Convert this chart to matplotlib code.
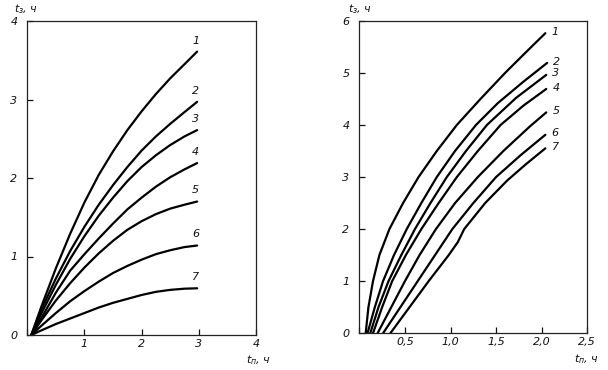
import matplotlib
matplotlib.use("Agg")
import matplotlib.pyplot as plt

plt.rcParams['font.family'] = ['DejaVu Sans']

# ---- left panel data (t_п, t_з) ----
left_labels = ["1", "2", "3", "4", "5", "6", "7"]
left_x = [0.07, 0.25, 0.5, 0.75, 1.0, 1.25, 1.5, 1.75, 2.0, 2.25, 2.5, 2.75, 2.97]
left_y1 = [0.0, 0.37, 0.85, 1.29, 1.69, 2.04, 2.34, 2.61, 2.85, 3.07, 3.27, 3.45, 3.61]
left_y2 = [0.0, 0.33, 0.72, 1.07, 1.38, 1.66, 1.91, 2.14, 2.35, 2.53, 2.69, 2.84, 2.97]
left_y3 = [0.0, 0.28, 0.64, 0.97, 1.26, 1.52, 1.75, 1.96, 2.14, 2.29, 2.42, 2.53, 2.61]
left_y4 = [0.0, 0.22, 0.54, 0.82, 1.03, 1.23, 1.42, 1.60, 1.75, 1.89, 2.01, 2.11, 2.19]
left_y5 = [0.0, 0.19, 0.44, 0.66, 0.86, 1.04, 1.20, 1.34, 1.45, 1.54, 1.61, 1.66, 1.70]
left_y6 = [0.0, 0.12, 0.28, 0.43, 0.56, 0.68, 0.79, 0.88, 0.96, 1.03, 1.08, 1.12, 1.14]
left_y7 = [0.0, 0.06, 0.14, 0.21, 0.28, 0.35, 0.41, 0.46, 0.51, 0.55, 0.575, 0.59, 0.595]

# ---- right panel data ----
right_labels = ["1", "2", "3", "4", "5", "6", "7"]
right_x1 = [0.07, 0.10, 0.15, 0.22, 0.33, 0.48, 0.65, 0.85, 1.07, 1.33, 1.60, 1.83, 2.04]
right_y1 = [0.0, 0.5, 1.0, 1.5, 2.0, 2.5, 3.0, 3.5, 4.0, 4.5, 5.0, 5.4, 5.76]
right_x2 = [0.09, 0.17, 0.26, 0.38, 0.52, 0.68, 0.85, 1.05, 1.28, 1.52, 1.80, 2.06]
right_y2 = [0.0, 0.5, 1.0, 1.5, 2.0, 2.5, 3.0, 3.5, 4.0, 4.42, 4.83, 5.19]
right_x3 = [0.12, 0.21, 0.32, 0.46, 0.61, 0.78, 0.96, 1.17, 1.40, 1.72, 2.05]
right_y3 = [0.0, 0.5, 1.0, 1.5, 2.0, 2.5, 3.0, 3.5, 4.0, 4.52, 4.96]
right_x4 = [0.15, 0.25, 0.36, 0.51, 0.68, 0.87, 1.07, 1.30, 1.55, 1.80, 2.05]
right_y4 = [0.0, 0.5, 1.0, 1.5, 2.0, 2.5, 3.0, 3.5, 4.0, 4.37, 4.69]
right_x5 = [0.20, 0.35, 0.50, 0.66, 0.84, 1.05, 1.30, 1.58, 1.87, 2.05]
right_y5 = [0.0, 0.5, 1.0, 1.5, 2.0, 2.5, 3.0, 3.5, 3.97, 4.24]
right_x6 = [0.26, 0.45, 0.64, 0.83, 1.02, 1.25, 1.50, 1.77, 2.04]
right_y6 = [0.0, 0.5, 1.0, 1.5, 2.0, 2.5, 3.0, 3.42, 3.81]
right_x7 = [0.34, 0.55, 0.76, 0.98, 1.08, 1.15, 1.38, 1.62, 1.83, 2.04]
right_y7 = [0.0, 0.5, 1.0, 1.5, 1.75, 2.0, 2.5, 2.93, 3.25, 3.55]

left_xticks = [0, 1, 2, 3, 4]
left_xticklabels = ["", "1", "2", "3", "4"]
left_yticks = [0, 1, 2, 3, 4]
right_xticks = [0, 0.5, 1.0, 1.5, 2.0, 2.5]
right_xticklabels = ["", "0,5", "1,0", "1,5", "2,0", "2,5"]
right_yticks = [0, 1, 2, 3, 4, 5, 6]

left_series = [left_y1, left_y2, left_y3, left_y4, left_y5, left_y6, left_y7]
right_series = [(right_x1, right_y1), (right_x2, right_y2), (right_x3, right_y3),
                (right_x4, right_y4), (right_x5, right_y5), (right_x6, right_y6),
                (right_x7, right_y7)]

fig = plt.figure(figsize=(6.08, 3.70), dpi=100)
W, H = 608, 370

def make_ax(l, r, t, b):
    return fig.add_axes([l / W, (H - b) / H, (r - l) / W, (b - t) / H])

axL = make_ax(27.3, 256, 21, 335)
axR = make_ax(359.3, 587.3, 20.7, 333.3)

fs = 8
ital = dict(style='italic', fontsize=fs, color='#111111')

for ax in (axL, axR):
    for s in ax.spines.values():
        s.set_linewidth(0.9)
        s.set_color('#222222')
    ax.tick_params(direction='in', length=4, width=0.9, top=False, right=False,
                   labelsize=fs, colors='#111111')
    ax.tick_params(axis='y', pad=7)
    ax.tick_params(axis='x', pad=3)

# left
for ys, lab in zip(left_series, left_labels):
    axL.plot(left_x, ys, color='black', lw=1.6, solid_capstyle='round',
             solid_joinstyle='round')
    axL.annotate(lab, (left_x[-1], ys[-1]), xytext=(-1, 8), textcoords='offset points',
                 ha='center', va='center', **ital)
axL.set_xlim(0, 4)
axL.set_ylim(0, 4)
axL.set_xticks(left_xticks)
axL.set_xticklabels(left_xticklabels)
axL.set_yticks(left_yticks)
axL.set_yticklabels([str(v) for v in left_yticks])

# right
for (xs, ys), lab in zip(right_series, right_labels):
    axR.plot(xs, ys, color='black', lw=1.6, solid_capstyle='round',
             solid_joinstyle='round')
    axR.annotate(lab, (xs[-1], ys[-1]), xytext=(7, 1), textcoords='offset points',
                 ha='center', va='center', **ital)
axR.set_xlim(0, 2.5)
axR.set_ylim(0, 6)
axR.set_xticks(right_xticks)
axR.set_xticklabels(right_xticklabels)
axR.set_yticks(right_yticks)
axR.set_yticklabels([str(v) for v in right_yticks])

for ax in (axL, axR):
    for lbl in ax.get_xticklabels() + ax.get_yticklabels():
        lbl.set_style('italic')

# axis titles
fig.text(14 / W, 1 - 9 / H, r"$t_{з}$, ч", ha='left', va='center', **ital)
fig.text(348 / W, 1 - 9 / H, r"$t_{з}$, ч", ha='left', va='center', **ital)
fig.text(246 / W, 1 - 360 / H, r"$t_{п}$, ч", ha='left', va='center', **ital)
fig.text(574 / W, 1 - 359 / H, r"$t_{п}$, ч", ha='left', va='center', **ital)

fig.savefig("out.png", dpi=100)
